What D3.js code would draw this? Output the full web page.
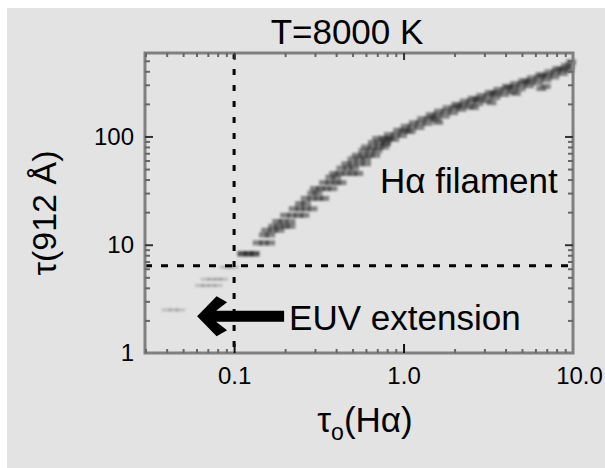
<!DOCTYPE html>
<html>
<head>
<meta charset="utf-8">
<script src="https://cdn.jsdelivr.net/npm/d3@7"></script>
<style>
body { margin: 0; background: #fff; }
text { font-family: "Liberation Sans", Arial, Helvetica, sans-serif; fill: #000; }
</style>
</head>
<body>
<div id="chart"></div>
<script>
// axis ticks
var xTicks = [0.1, 1, 10];
var xTickLabels = ['0.1', '1.0', '10.0'];
var yTicks = [1, 10, 100];
var yTickLabels = ['1', '10', '100'];
var xMinor = [0.03, 0.04, 0.05, 0.06, 0.07, 0.08, 0.09, 0.2, 0.3, 0.4, 0.5, 0.6, 0.7, 0.8, 0.9, 2, 3, 4, 5, 6, 7, 8, 9];
var yMinor = [2, 3, 4, 5, 6, 7, 8, 9, 20, 30, 40, 50, 60, 70, 80, 90, 200, 300, 400, 500];

// dashed limits
var limitX = 0.1;
var limitY = 6.4;

// EUV extension points (below the limit)
var euvX = [0.040, 0.044, 0.048, 0.063, 0.068, 0.074, 0.080, 0.068, 0.074, 0.080, 0.086, 0.088, 0.094, 0.100];
var euvY = [2.5, 2.5, 2.5, 4.2, 4.2, 4.2, 4.2, 4.8, 4.8, 4.8, 4.8, 6.2, 6.2, 6.2];

// H-alpha filament points
var filX = [
  0.112, 0.122, 0.132, 0.112, 0.122, 0.132,
  0.138, 0.150, 0.163,
  0.150, 0.163,
  0.155, 0.170, 0.185,
  0.170, 0.185, 0.200, 0.215,
  0.180, 0.195, 0.215,
  0.200, 0.220, 0.240, 0.260,
  0.225, 0.245, 0.265, 0.290,
  0.245, 0.265,
  0.265, 0.290, 0.315, 0.340,
  0.290, 0.310,
  0.300, 0.325, 0.350, 0.380,
  0.340, 0.370, 0.400, 0.430,
  0.370, 0.400,
  0.390, 0.420, 0.460, 0.500, 0.540,
  0.430, 0.470, 0.510,
  0.460, 0.500, 0.550, 0.600,
  0.500, 0.550, 0.600,
  0.530, 0.580, 0.630, 0.680,
  0.580, 0.640, 0.700,
  0.600, 0.660, 0.720, 0.770,
  0.660, 0.720, 0.780,
  0.700, 0.760, 0.830,
  0.79, 0.80, 0.82,
  0.88, 0.90, 0.93,
  0.98, 1.00, 1.03,
  1.10, 1.12, 1.15,
  1.24, 1.26, 1.29,
  1.38, 1.41, 1.45,
  1.55, 1.58, 1.62,
  1.75, 1.78, 1.82,
  1.96, 2.00, 2.05,
  2.20, 2.24, 2.30,
  2.45, 2.50, 2.56,
  2.76, 2.82, 2.88,
  3.10, 3.16, 3.23,
  3.48, 3.55, 3.63,
  3.92, 4.00, 4.08,
  4.38, 4.47, 4.56,
  4.90, 5.00, 5.10,
  5.50, 5.60, 5.72,
  6.18, 6.30, 6.42,
  6.95, 7.10, 7.25,
  7.75, 7.90, 8.05,
  8.70, 8.90, 9.10,
  9.50, 9.60, 9.75,
  1.05, 1.50, 2.10, 2.70, 3.40, 4.20, 5.30, 6.60, 8.40,
  6.5, 6.9, 3.3, 2.6, 4.6, 1.6
];
var filY = [
  8.2, 8.2, 8.2, 8.3, 8.3, 8.3,
  10.4, 10.4, 10.4,
  12.3, 12.3,
  13.6, 13.6, 13.6,
  14.8, 14.8, 14.8, 14.8,
  16.4, 16.4, 16.4,
  18.7, 18.7, 18.7, 18.7,
  21.5, 21.5, 21.5, 21.5,
  24, 24,
  26.8, 26.8, 26.8, 26.8,
  30, 30,
  33, 33, 33, 33,
  37.5, 37.5, 37.5, 37.5,
  42, 42,
  45.5, 45.5, 45.5, 45.5, 45.5,
  51, 51, 51,
  56, 56, 56, 56,
  62, 62, 62,
  67, 67, 67, 67,
  74, 74, 74,
  80, 80, 80, 80,
  88, 88, 88,
  96, 96, 96,
  86, 95, 104,
  94, 104, 114,
  102, 113, 124,
  111, 123, 134,
  121, 134, 146,
  132, 146, 159,
  143, 158, 171,
  154, 170, 184,
  166, 183, 198,
  178, 196, 212,
  189, 208, 225,
  201, 221, 239,
  214, 236, 255,
  229, 252, 272,
  244, 268, 290,
  259, 285, 308,
  275, 303, 327,
  294, 323, 348,
  313, 344, 371,
  333, 366, 395,
  355, 390, 421,
  382, 420, 453,
  410, 450, 490,
  113, 150, 190, 220, 250, 285, 320, 365, 420,
  277, 290, 205, 185, 250, 135
];

var margin = { top: 53, right: 32, bottom: 115, left: 145 },
    width = 605 - margin.left - margin.right,
    height = 468 - margin.top - margin.bottom;

var svg = d3.select('#chart').append('svg')
    .attr('width', 605)
    .attr('height', 468);

svg.append('rect')
    .attr('x', 7).attr('y', 8)
    .attr('width', 598).attr('height', 460)
    .attr('fill', '#e3e3e3');

var blur = svg.append('defs').append('filter').attr('id', 'soft')
    .attr('x', '-20%').attr('y', '-20%').attr('width', '140%').attr('height', '140%');
blur.append('feGaussianBlur').attr('stdDeviation', 0.8);

var g = svg.append('g')
    .attr('transform', 'translate(' + margin.left + ',' + margin.top + ')');

var x = d3.scaleLog().domain([0.0298, 10]).range([0, width]);
var y = d3.scaleLog().domain([1, 590]).range([height, 0]);

// data marks: short horizontal dashes
var mark_w = 10, mark_h = 5;
var marks = g.append('g').attr('filter', 'url(#soft)');
marks.selectAll('.euv')
    .data(d3.zip(euvX, euvY))
    .enter()
    .append('rect')
        .attr('class', 'euv')
        .attr('x', d => x(d[0]) - mark_w / 2)
        .attr('y', d => y(d[1]) - 1.5)
        .attr('width', mark_w)
        .attr('height', 3)
        .attr('fill', '#777')
        .attr('opacity', 0.35);

marks.selectAll('.fil')
    .data(d3.zip(filX, filY))
    .enter()
    .append('rect')
        .attr('class', 'fil')
        .attr('x', d => x(d[0]) - mark_w / 2)
        .attr('y', d => y(d[1]) - mark_h / 2)
        .attr('width', mark_w)
        .attr('height', mark_h)
        .attr('fill', '#222')
        .attr('opacity', 0.5);

// dashed limit lines
g.append('line')
    .attr('x1', x(limitX)).attr('x2', x(limitX))
    .attr('y1', 0).attr('y2', height)
    .attr('stroke', '#000').attr('stroke-width', 3)
    .attr('stroke-dasharray', '6,10');
g.append('line')
    .attr('x1', 0).attr('x2', width)
    .attr('y1', y(limitY)).attr('y2', y(limitY))
    .attr('stroke', '#000').attr('stroke-width', 3)
    .attr('stroke-dasharray', '7,9');

// frame
g.append('rect')
    .attr('width', width).attr('height', height)
    .attr('fill', 'none')
    .attr('stroke', '#808080')
    .attr('stroke-width', 3);

// inward ticks on all sides
function ticks(sel, axis, vals, len, col) {
    sel.call(axis.tickValues(vals).tickSize(-len).tickFormat(''));
    sel.select('.domain').remove();
    sel.selectAll('line').attr('stroke', col).attr('stroke-width', 2);
}
var botAx = g.append('g').attr('transform', 'translate(0,' + height + ')');
ticks(botAx.append('g'), d3.axisBottom(x), xMinor, 4, '#666');
ticks(botAx.append('g'), d3.axisBottom(x), [0.1, 1], 9, '#111');
var topAx = g.append('g');
ticks(topAx.append('g'), d3.axisTop(x), xMinor, 4, '#666');
ticks(topAx.append('g'), d3.axisTop(x), [0.1, 1], 7, '#333');
var lftAx = g.append('g');
ticks(lftAx.append('g'), d3.axisLeft(y), yMinor, 5, '#666');
ticks(lftAx.append('g'), d3.axisLeft(y), [10, 100], 8, '#333');
var rgtAx = g.append('g').attr('transform', 'translate(' + width + ',0)');
ticks(rgtAx.append('g'), d3.axisRight(y), yMinor, 5, '#666');
ticks(rgtAx.append('g'), d3.axisRight(y), [10, 100], 8, '#333');

// tick labels
var xl = g.append('g')
    .attr('transform', 'translate(0,' + height + ')')
    .call(d3.axisBottom(x).tickValues(xTicks).tickFormat((d, i) => xTickLabels[i]).tickSize(0).tickPadding(14));
xl.select('.domain').remove();
xl.selectAll('text').attr('font-size', 24).attr('fill', '#000');
xl.selectAll('text').filter((d, i) => i == 2).attr('dx', 6);

var yl = g.append('g')
    .call(d3.axisLeft(y).tickValues(yTicks).tickFormat((d, i) => yTickLabels[i]).tickSize(0).tickPadding(11));
yl.select('.domain').remove();
yl.selectAll('text').attr('font-size', 24).attr('fill', '#000');
xl.attr('font-family', null);
yl.attr('font-family', null);

// titles
svg.append('text')
    .attr('x', 347).attr('y', 44)
    .attr('text-anchor', 'middle')
    .attr('font-size', 35)
    .text('T=8000 K');

svg.append('text')
    .attr('transform', 'translate(56,213) rotate(-90)')
    .attr('text-anchor', 'middle')
    .attr('font-size', 34)
    .text('τ(912 Å)');

var xt = svg.append('text')
    .attr('x', 365).attr('y', 432)
    .attr('text-anchor', 'middle')
    .attr('font-size', 35);
xt.append('tspan').text('τ');
xt.append('tspan').attr('font-size', 23).attr('dy', 8).text('o');
xt.append('tspan').attr('dy', -8).text('(Hα)');

// arrow to the EUV extension
var tip = [x(0.0605), y(2.19)];
var arrow = [[0, 0], [19.5, -20], [30, -14], [19, -5.5], [87, -5.5], [87, 5.5], [19, 5.5], [30, 14], [19.5, 20]];
g.append('path')
    .attr('transform', 'translate(' + tip[0] + ',' + tip[1] + ')')
    .attr('d', d3.line()(arrow) + 'Z')
    .attr('fill', '#000');

g.append('text')
    .attr('x', tip[0] + 92).attr('y', tip[1] + 14)
    .attr('font-size', 35)
    .text('EUV extension');

g.append('text')
    .attr('x', x(0.726)).attr('y', y(29.9))
    .attr('font-size', 35)
    .text('Hα filament');
</script>
</body>
</html>
